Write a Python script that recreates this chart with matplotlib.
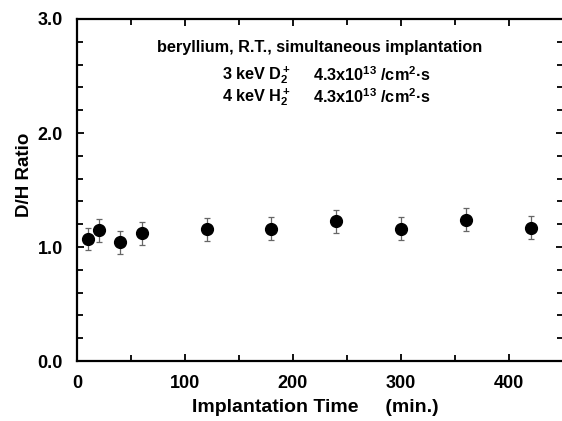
import matplotlib
matplotlib.use("Agg")
import matplotlib.pyplot as plt
from matplotlib.ticker import MultipleLocator

# implantation time (min) vs D/H ratio
time_min = [10, 20, 40, 60, 120, 180, 240, 300, 360, 420]
dh_ratio = [1.07, 1.145, 1.04, 1.12, 1.155, 1.16, 1.225, 1.16, 1.24, 1.17]
dh_err = [0.10, 0.10, 0.10, 0.10, 0.10, 0.10, 0.10, 0.10, 0.10, 0.10]

x_ticks = [0, 100, 200, 300, 400]
y_ticks = [0.0, 1.0, 2.0, 3.0]

plt.rcParams["font.family"] = ["Liberation Sans", "DejaVu Sans"]
plt.rcParams["font.weight"] = "bold"
plt.rcParams["mathtext.fontset"] = "custom"
plt.rcParams["mathtext.rm"] = "Liberation Sans:bold"
plt.rcParams["mathtext.it"] = "Liberation Sans:bold"
plt.rcParams["mathtext.bf"] = "Liberation Sans:bold"

fig = plt.figure(figsize=(5.62, 4.21), dpi=100)
ax = fig.add_axes([77 / 562, 60 / 421, 486 / 562, 342 / 421])

ax.errorbar(time_min, dh_ratio, yerr=dh_err, fmt="o", color="black",
            ms=8.5, ecolor="#666666", elinewidth=0.9, capsize=2, capthick=0.9)

ax.set_xlim(0, 450)
ax.set_ylim(0, 3.0)
ax.set_xticks(x_ticks)
ax.set_yticks(y_ticks)
ax.set_yticklabels([f"{v:.1f}" for v in y_ticks])
ax.xaxis.set_minor_locator(MultipleLocator(50))
ax.yaxis.set_minor_locator(MultipleLocator(0.2))
ax.tick_params(which="both", direction="in", top=True, right=True,
               width=1.3, labelsize=13)
ax.tick_params(axis="x", pad=10)
ax.tick_params(axis="y", pad=10)
ax.tick_params(which="major", length=5)
ax.tick_params(which="minor", length=4)
for s in ax.spines.values():
    s.set_linewidth(1.6)
ax.spines["right"].set_visible(False)  # cut off at the page edge in the scan

ax.set_xlabel("Implantation Time     (min.)", fontsize=14, fontweight="bold")
ax.set_ylabel("D/H Ratio", fontsize=13.5, fontweight="bold")
ax.xaxis.set_label_coords(0.49, -0.11)
ax.yaxis.set_label_coords(-0.09, 0.545)

fs = 11.7
ax.text(0.5, 0.918, "beryllium, R.T., simultaneous implantation",
        transform=ax.transAxes, ha="center", va="center", fontsize=fs)
ax.text(0.298, 0.836, r"3 keV D$_2^+$", transform=ax.transAxes,
        ha="left", va="center", fontsize=fs)
ax.text(0.486, 0.836, r"4.3x10$^{13}$ /cm$^2$·s", transform=ax.transAxes,
        ha="left", va="center", fontsize=fs)
ax.text(0.298, 0.772, r"4 keV H$_2^+$", transform=ax.transAxes,
        ha="left", va="center", fontsize=fs)
ax.text(0.486, 0.772, r"4.3x10$^{13}$ /cm$^2$·s", transform=ax.transAxes,
        ha="left", va="center", fontsize=fs)

fig.savefig("out.png", dpi=100)
